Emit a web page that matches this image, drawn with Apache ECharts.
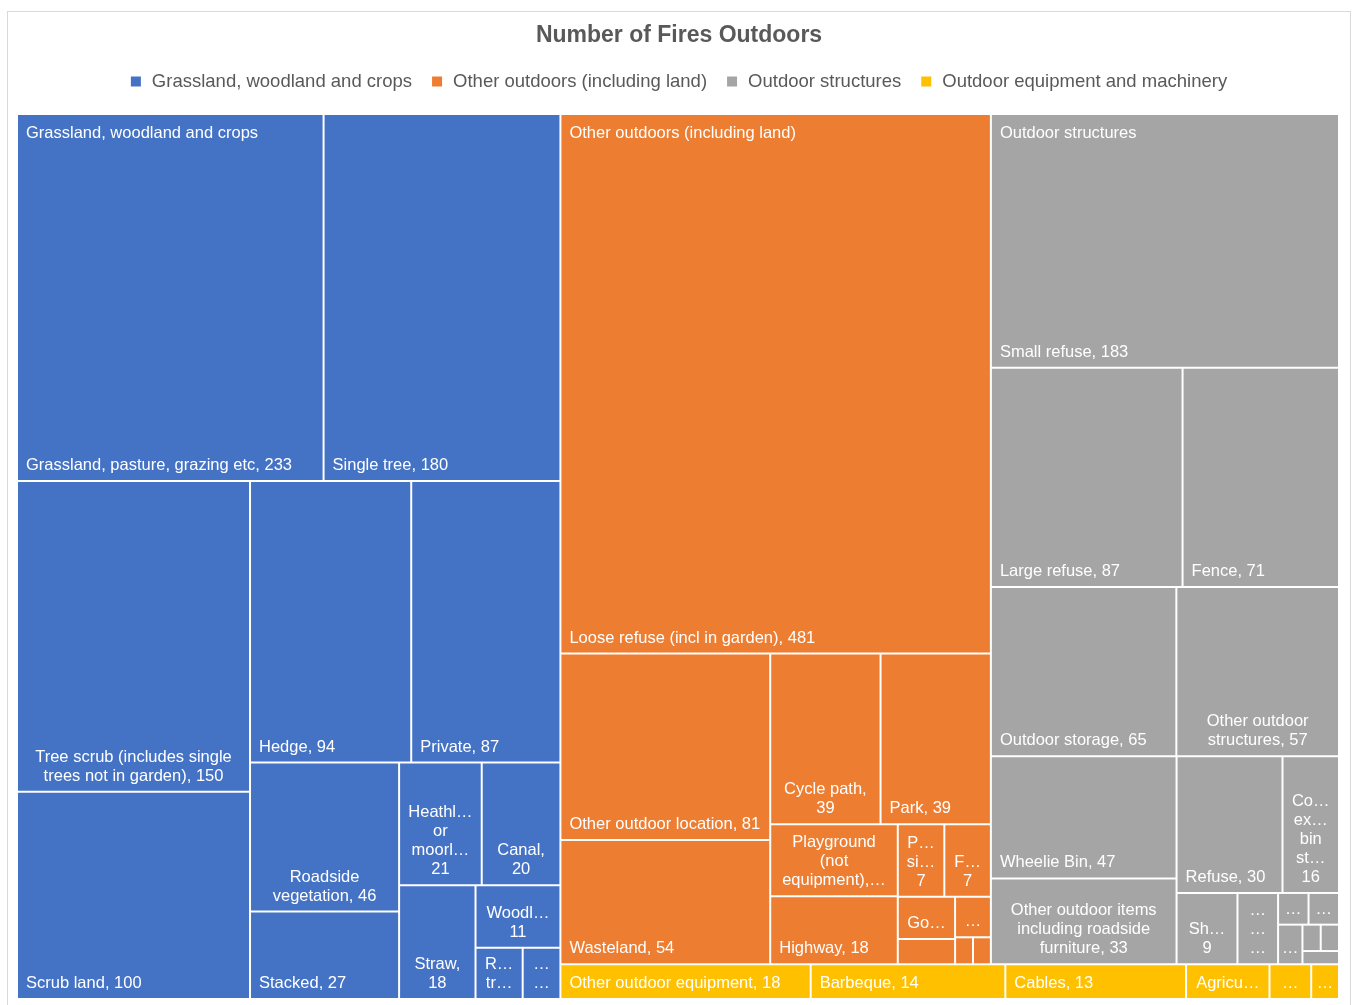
<!DOCTYPE html>
<html>
<head>
<meta charset="utf-8">
<title>Number of Fires Outdoors</title>
<script src="https://cdn.jsdelivr.net/npm/echarts@6/dist/echarts.min.js"></script>
<style>
  html, body { margin: 0; padding: 0; background: #fff; overflow: hidden; }
  #frame { position: absolute; left: 7px; top: 11px; width: 1342px; height: 1000px;
           border: 1px solid #d9d9d9; border-bottom: none; }
  #chart { width: 1342px; height: 1000px; }
</style>
</head>
<body>
<div id="frame"><div id="chart"></div></div>
<script>
// Outdoor fires by location, grouped into four property types.
const FONT = '"Liberation Sans", Arial, sans-serif';
const FONT_SIZE = 16.5;
const LINE_H = 19;
const PAD_X = 8;
const CLEAR = 'rgba(0,0,0,0)';

const groupNames = [
  'Grassland, woodland and crops',
  'Other outdoors (including land)',
  'Outdoor structures',
  'Outdoor equipment and machinery'
];
const groupColors = ['#4472C4', '#ED7D31', '#A5A5A5', '#FFC000'];

const grasslandNames = [
  'Grassland, pasture, grazing etc', 'Single tree',
  'Tree scrub (includes single trees not in garden)', 'Scrub land', 'Hedge',
  'Private', 'Roadside vegetation', 'Stacked', 'Heathland or moorland',
  'Canal', 'Straw', 'Woodland', 'Railway trackside', 'Standing crop'
];
const grasslandValues = [233, 180, 150, 100, 94, 87, 46, 27, 21, 20, 18, 11, 5, 4];

const otherNames = [
  'Loose refuse (incl in garden)', 'Other outdoor location', 'Wasteland',
  'Park', 'Cycle path', 'Playground (not equipment)', 'Highway', 'Footpath',
  'Picnic site', 'Golf course', 'Lakeside', 'Beach', 'Bridge', 'Riverbank'
];
const otherValues = [481, 81, 54, 39, 39, 19, 18, 7, 7, 5, 3, 3, 1, 1];

const structureNames = [
  'Small refuse', 'Large refuse', 'Fence', 'Outdoor storage',
  'Other outdoor structures', 'Wheelie Bin',
  'Other outdoor items including roadside furniture', 'Refuse',
  'Common external bin storage', 'Shelter', 'Tents marquees pavilions',
  'Telephone kiosk', 'Post box', 'Bus shelter', 'Lamp post', 'Road sign',
  'Portable toilet'
];
const structureValues = [183, 87, 71, 65, 57, 47, 33, 30, 16, 9, 6, 2, 2, 2, 1, 1, 1];

const equipmentNames = [
  'Other outdoor equipment', 'Barbeque', 'Cables', 'Agricultural equipment',
  'Generator', 'Pipeline'
];
const equipmentValues = [18, 14, 13, 6, 3, 2];

const groupLeaves = [
  [grasslandNames, grasslandValues],
  [otherNames, otherValues],
  [structureNames, structureValues],
  [equipmentNames, equipmentValues]
];

const sum = arr => arr.reduce((a, b) => a + b, 0);
const groupTotals = groupLeaves.map(([, v]) => sum(v));
const grandTotal = sum(groupTotals);

// ---- cell label fitting: wrap on words, shorten words that do not fit ----
const measure = document.createElement('canvas').getContext('2d');
measure.font = FONT_SIZE + 'px ' + FONT;
const textWidth = s => measure.measureText(s).width;

function withEllipsis(s, maxW) {
  for (let k = s.length; k >= 1; k--) {
    const c = s.slice(0, k) + '…';
    if (textWidth(c) <= maxW) return c;
  }
  return '…';
}
function shortenWord(word, maxW) {
  return textWidth(word) <= maxW ? word : withEllipsis(word.slice(0, -1), maxW);
}
function fitLabel(text, w, h) {
  const maxW = w - 2 * PAD_X;
  const maxLines = Math.floor((h - 8) / LINE_H);
  if (maxLines < 1 || maxW <= 0) return { text: '', wrapped: false };
  if (textWidth(text) <= maxW) return { text, wrapped: false };
  const lines = [];
  let cur = '';
  let cut = false;
  for (const word of text.split(' ')) {
    const joined = cur ? cur + ' ' + word : word;
    if (cur && !cut && textWidth(joined) <= maxW) { cur = joined; continue; }
    if (cur) lines.push(cur);
    cur = shortenWord(word, maxW);
    cut = cur !== word;
  }
  if (cur) lines.push(cur);
  if (lines.length > maxLines) {
    lines.length = maxLines;
    const last = lines[maxLines - 1];
    if (!last.endsWith('…')) lines[maxLines - 1] = withEllipsis(last, maxW);
  }
  return { text: lines.join('\n'), wrapped: true };
}

let cellLabels = null;

function buildTree(coloured) {
  return groupNames.map((name, gi) => {
    const [names, values] = groupLeaves[gi];
    const node = {
      name,
      children: names.map((n, i) => {
        const leaf = { name: n, value: values[i] };
        if (coloured && cellLabels && cellLabels[n] && cellLabels[n].wrapped) {
          leaf.label = { position: 'insideBottom', align: 'center' };
        }
        return leaf;
      })
    };
    if (coloured) node.itemStyle = { color: groupColors[gi] };
    return node;
  });
}

// The group name is printed over the top-left of its largest cell,
// for groups large enough to hold it.
const headerByLeaf = {};
groupNames.forEach((name, gi) => {
  if (groupTotals[gi] / grandTotal > 0.05) headerByLeaf[groupLeaves[gi][0][0]] = name;
});

const layoutBox = {
  left: 10, top: 103, width: 1320, height: 883,
  squareRatio: 1.227,
  sort: 'desc',
  roam: false,
  nodeClick: false,
  breadcrumb: { show: false },
  animation: false
};

const cellText = {
  color: '#fff',
  fontSize: FONT_SIZE,
  fontFamily: FONT,
  lineHeight: LINE_H
};

function buildOption() {
  return {
    animation: false,
    color: groupColors,
    title: {
      text: 'Number of Fires Outdoors',
      left: 'center',
      top: 7,
      textStyle: { fontSize: 23, fontWeight: 'bold', color: '#595959', fontFamily: FONT }
    },
    legend: {
      top: 55,
      left: 'center',
      icon: 'rect',
      itemWidth: 10,
      itemHeight: 10,
      itemGap: 20,
      selectedMode: false,
      data: groupNames,
      textStyle: { fontSize: 18.5, color: '#595959', fontFamily: FONT, padding: [0, 0, 0, 6] }
    },
    series: [
      // carries the legend entries only; drawn with zero radius
      {
        type: 'pie',
        radius: 0,
        silent: true,
        label: { show: false },
        labelLine: { show: false },
        data: groupNames.map((n, i) => ({ name: n, value: groupTotals[i] }))
      },
      Object.assign({}, layoutBox, {
        type: 'treemap',
        data: buildTree(true),
        levels: [
          { itemStyle: { borderWidth: 0, gapWidth: 2, borderColor: '#fff' } },
          { itemStyle: { borderWidth: 0, gapWidth: 2, borderColor: '#fff' } },
          { itemStyle: { borderWidth: 0, gapWidth: 0 } }
        ],
        label: Object.assign({
          show: true,
          position: 'insideBottomLeft',
          distance: 0,
          padding: [0, PAD_X, 5, PAD_X],
          formatter: p => cellLabels && cellLabels[p.name]
            ? cellLabels[p.name].text
            : p.name + ', ' + p.value,
          overflow: cellLabels ? 'none' : 'truncate'
        }, cellText)
      }),
      // group titles laid over the same cells
      Object.assign({}, layoutBox, {
        type: 'treemap',
        silent: true,
        z: 5,
        data: buildTree(false),
        itemStyle: { color: CLEAR, borderColor: CLEAR, borderWidth: 0 },
        levels: [
          { itemStyle: { borderWidth: 0, gapWidth: 2, borderColor: CLEAR, color: CLEAR } },
          { itemStyle: { borderWidth: 0, gapWidth: 2, borderColor: CLEAR, color: CLEAR } },
          { itemStyle: { borderWidth: 0, gapWidth: 0, borderColor: CLEAR, color: CLEAR } }
        ],
        label: Object.assign({
          show: true,
          position: 'insideTopLeft',
          distance: 0,
          padding: [9, PAD_X, 0, PAD_X],
          formatter: p => headerByLeaf[p.name] || '',
          overflow: 'truncate'
        }, cellText)
      })
    ]
  };
}

const chart = echarts.init(document.getElementById('chart'));
chart.setOption(buildOption());

// Once the treemap has sized its cells, fit each label to its cell.
try {
  const tree = chart.getModel().getSeriesByIndex(1).getData().tree;
  const fitted = {};
  tree.eachNode(node => {
    if (node.children && node.children.length) return;
    const lay = node.getLayout();
    if (!lay) return;
    fitted[node.name] = fitLabel(node.name + ', ' + node.getValue(), lay.width, lay.height);
  });
  cellLabels = fitted;
  chart.setOption(buildOption(), true);
} catch (e) {
  console.error(e);
}
</script>
</body>
</html>
